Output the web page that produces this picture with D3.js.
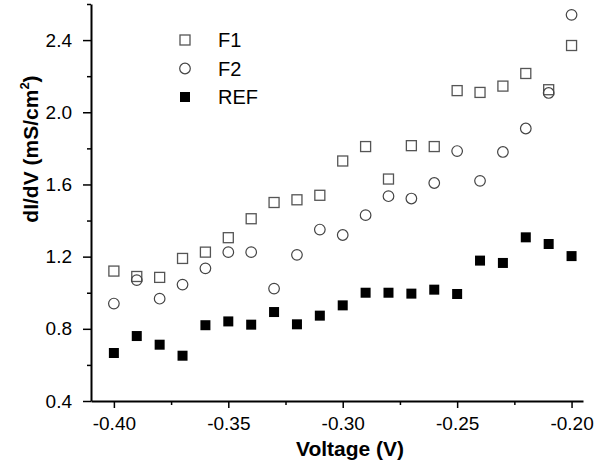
<!DOCTYPE html>
<html>
<head>
<meta charset="utf-8">
<script src="https://cdn.jsdelivr.net/npm/d3@7"></script>
<style>
  body { margin: 0; background: #fff; }
  text { font-family: Arial, "Liberation Sans", sans-serif; }
</style>
</head>
<body>
<script>
// Datos
const voltajes = [-0.40, -0.39, -0.38, -0.37, -0.36, -0.35, -0.34, -0.33, -0.32, -0.31,
  -0.30, -0.29, -0.28, -0.27, -0.26, -0.25, -0.24, -0.23, -0.22, -0.21, -0.20];
const f1 = [1.12, 1.09, 1.085, 1.19, 1.225, 1.305, 1.41, 1.50, 1.515, 1.54,
  1.73, 1.81, 1.63, 1.815, 1.81, 2.12, 2.11, 2.145, 2.215, 2.125, 2.37];
const f2 = [0.94, 1.07, 0.967, 1.045, 1.135, 1.225, 1.225, 1.023, 1.21, 1.35,
  1.32, 1.43, 1.535, 1.522, 1.608, 1.785, 1.62, 1.78, 1.91, 2.107, 2.54];
const ref = [0.666, 0.76, 0.712, 0.651, 0.82, 0.841, 0.823, 0.893, 0.825, 0.873,
  0.93, 1.0, 1.0, 0.995, 1.017, 0.993, 1.178, 1.165, 1.307, 1.27, 1.203];
const ticksY = [0.4, 0.8, 1.2, 1.6, 2.0, 2.4];
const ticksYMenor = [0.6, 1.0, 1.4, 1.8, 2.2, 2.6];
const ticksX = [-0.40, -0.35, -0.30, -0.25, -0.20];
const ticksXMenor = [-0.375, -0.325, -0.275, -0.225];
const series = ["F1", "F2", "REF"];

const WIDTH = 596;
const HEIGHT = 474;
const MARGIN = { top: 4, bottom: 73, left: 91, right: 13 };

const svg = d3.select("body")
  .append("svg")
  .attr("width", WIDTH)
  .attr("height", HEIGHT);

const escalaX = d3.scaleLinear()
  .domain([-0.41, -0.195])
  .range([MARGIN.left, WIDTH - MARGIN.right]);

const escalaY = d3.scaleLinear()
  .domain([0.4, 2.6])
  .range([HEIGHT - MARGIN.bottom, MARGIN.top]);

const baseY = HEIGHT - MARGIN.bottom;

// Formato con guion normal en vez del signo menos unicode
const formatoX = (d) => d.toFixed(2);

// Eje X con ticks mayores y menores
svg.append("g")
  .attr("transform", `translate(0, ${baseY})`)
  .call(d3.axisBottom(escalaX).tickValues(ticksX).tickFormat(formatoX)
    .tickSize(7).tickPadding(9).tickSizeOuter(0));
svg.append("g")
  .attr("transform", `translate(0, ${baseY})`)
  .call(d3.axisBottom(escalaX).tickValues(ticksXMenor).tickFormat("")
    .tickSize(4).tickSizeOuter(0))
  .select(".domain").remove();

// Eje Y con ticks mayores y menores
svg.append("g")
  .attr("transform", `translate(${MARGIN.left}, 0)`)
  .call(d3.axisLeft(escalaY).tickValues(ticksY).tickFormat((d) => d.toFixed(1))
    .tickSize(8).tickPadding(11).tickSizeOuter(0));
svg.append("g")
  .attr("transform", `translate(${MARGIN.left}, 0)`)
  .call(d3.axisLeft(escalaY).tickValues(ticksYMenor).tickFormat("")
    .tickSize(4).tickSizeOuter(0))
  .select(".domain").remove();

svg.selectAll(".domain").attr("stroke-width", 2).attr("stroke", "#000");
svg.selectAll(".tick line").attr("stroke-width", 1.5).attr("stroke", "#000");
svg.selectAll(".tick text")
  .attr("font-size", 19)
  .attr("fill", "#000")
  .attr("font-family", "Arial, 'Liberation Sans', sans-serif");

// Títulos de los ejes
svg.append("text")
  .attr("x", 350)
  .attr("y", 456)
  .attr("text-anchor", "middle")
  .attr("font-size", 21)
  .attr("font-weight", "bold")
  .text("Voltage (V)");

const tituloY = svg.append("text")
  .attr("transform", "translate(38, 149) rotate(-90)")
  .attr("text-anchor", "middle")
  .attr("font-size", 21)
  .attr("font-weight", "bold");
tituloY.append("tspan").text("dI/dV (mS/cm");
tituloY.append("tspan").attr("font-size", 13).attr("dy", -9).text("2");
tituloY.append("tspan").attr("dy", 9).text(")");

// Marcadores
const lado = 10;
const puntos = (vals) => voltajes.map((v, i) => ({ x: v, y: vals[i] }));

svg.append("g").selectAll("rect")
  .data(puntos(f1))
  .join("rect")
  .attr("x", (d) => escalaX(d.x) - lado / 2)
  .attr("y", (d) => escalaY(d.y) - lado / 2)
  .attr("width", lado)
  .attr("height", lado)
  .attr("fill", "none")
  .attr("stroke", "#555")
  .attr("stroke-width", 1.3);

svg.append("g").selectAll("circle")
  .data(puntos(f2))
  .join("circle")
  .attr("cx", (d) => escalaX(d.x))
  .attr("cy", (d) => escalaY(d.y))
  .attr("r", 5.3)
  .attr("fill", "none")
  .attr("stroke", "#444")
  .attr("stroke-width", 1.2);

svg.append("g").selectAll("rect")
  .data(puntos(ref))
  .join("rect")
  .attr("x", (d) => escalaX(d.x) - lado / 2)
  .attr("y", (d) => escalaY(d.y) - lado / 2)
  .attr("width", lado)
  .attr("height", lado)
  .attr("fill", "#000");

// Leyenda
const leyenda = svg.append("g").attr("transform", "translate(185, 40)");
series.forEach((s, i) => {
  const g = leyenda.append("g").attr("transform", `translate(0, ${i * 28.5})`);
  if (s === "F2") {
    g.append("circle").attr("r", 5.3).attr("fill", "none")
      .attr("stroke", "#444").attr("stroke-width", 1.2);
  } else {
    g.append("rect")
      .attr("x", -lado / 2).attr("y", -lado / 2)
      .attr("width", lado).attr("height", lado)
      .attr("fill", s === "REF" ? "#000" : "none")
      .attr("stroke", s === "REF" ? "none" : "#555")
      .attr("stroke-width", 1.3);
  }
  g.append("text")
    .attr("x", 33)
    .attr("dy", "0.36em")
    .attr("font-size", 20)
    .text(s);
});
</script>
</body>
</html>
